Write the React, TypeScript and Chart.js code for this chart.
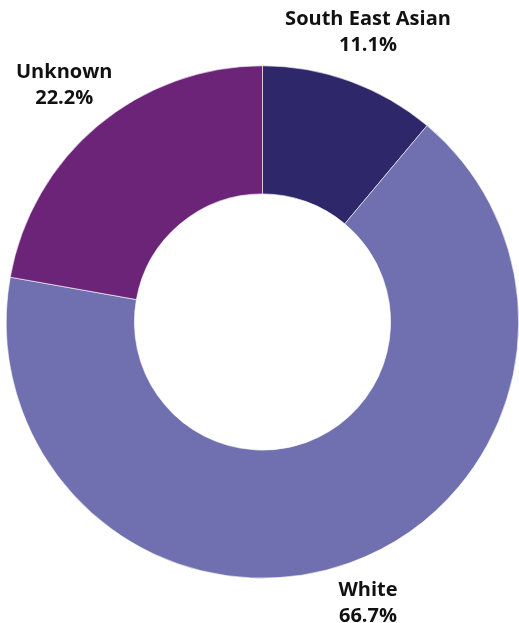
import React, { useEffect, useRef } from "react";
import { Chart, registerables } from "chart.js";

Chart.register(...registerables);

const categories = ["South East Asian", "White", "Unknown"];
const values = [11.1, 66.7, 22.2];
const valueLabels = ["11.1%", "66.7%", "22.2%"];
const colors = ["#2e286b", "#7070b0", "#6c2479"];

const outsideLabels = {
  id: "outsideLabels",
  afterDatasetsDraw(chart: any) {
    const ctx = chart.ctx;
    const meta = chart.getDatasetMeta(0);
    ctx.save();
    ctx.font = "bold 20px 'Open Sans'";
    ctx.fillStyle = "#111111";
    ctx.textAlign = "center";
    ctx.textBaseline = "middle";
    const lineH = 26;
    meta.data.forEach((arc: any, i: number) => {
      const p = arc.getProps(["x", "y", "startAngle", "endAngle", "outerRadius"], true);
      const mid = (p.startAngle + p.endAngle) / 2;
      const r = p.outerRadius * 1.205;
      const cx = p.x + Math.cos(mid) * r;
      let cy = p.y + Math.sin(mid) * r;
      cy = Math.max(31, Math.min(chart.height - 20, cy));
      ctx.fillText(categories[i], cx, cy - lineH / 2);
      ctx.fillText(valueLabels[i], cx, cy + lineH / 2);
    });
    ctx.restore();
  },
};

export default function App() {
  const ref = useRef<HTMLCanvasElement>(null);
  useEffect(() => {
    document.body.style.margin = "0";
    const chart = new Chart(ref.current as HTMLCanvasElement, {
      type: "doughnut",
      data: {
        labels: categories,
        datasets: [
          {
            data: values,
            backgroundColor: colors,
            borderColor: "#ffffff",
            borderWidth: 0.6,
          },
        ],
      },
      options: {
        animation: false,
        responsive: false,
        cutout: "50%",
        layout: { padding: { left: 6, right: 0, top: 65, bottom: 44 } },
        plugins: { legend: { display: false }, tooltip: { enabled: false } },
      },
      plugins: [outsideLabels],
    });
    return () => chart.destroy();
  }, []);
  return (
    <div style={{ width: 519, height: 623 }}>
      <canvas ref={ref} width={519} height={623} style={{ display: "block" }} />
    </div>
  );
}
